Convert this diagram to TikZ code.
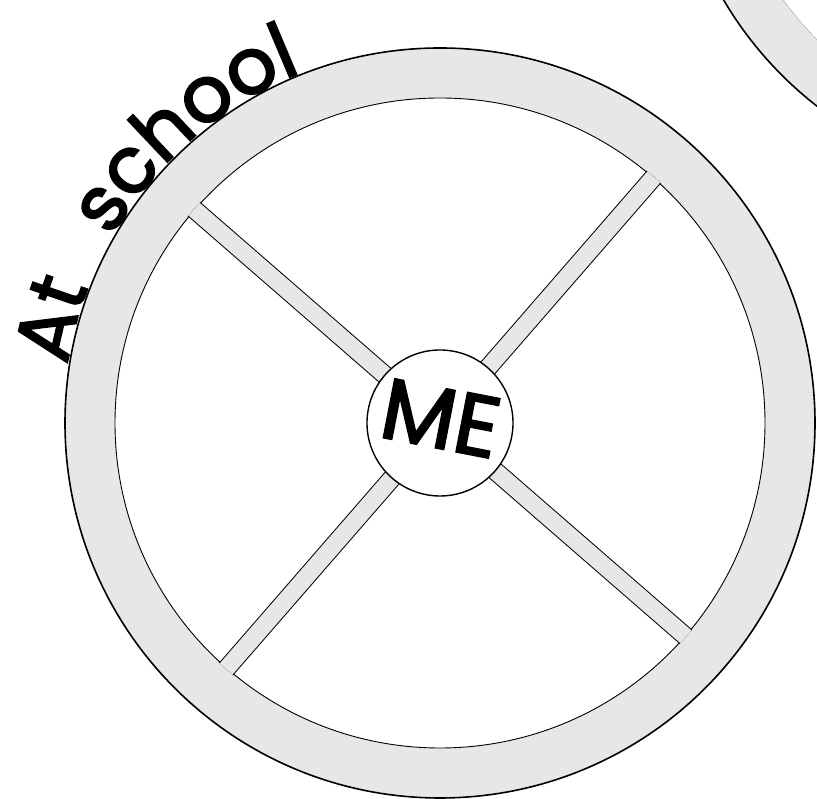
\documentclass[tikz,border=0pt]{standalone}
\usepackage{fontspec}
\usepackage{xcolor}
\usepackage{tikz}
\usetikzlibrary{shapes.geometric, positioning, calc, decorations.text}
\newfontfamily\handfont[FakeBold=2.5]{Poppins}
\definecolor{rimgrey}{RGB}{230,231,233}

\begin{document}
\begin{tikzpicture}[x=1pt, y=1pt]
    \tikzstyle{rim_style} = [circle, minimum size=750pt, inner sep=0pt, draw=black, line width=1.6pt, fill=rimgrey]
    \tikzstyle{hub_style} = [circle, minimum size=650pt, inner sep=0pt, draw=black, line width=0.9pt, fill=white]
    \tikzstyle{me_style} = [circle, minimum size=146pt, inner sep=0pt, draw=black, line width=1.4pt, fill=white, font=\handfont\fontsize{86}{90}\selectfont]
    \tikzstyle{title_style} = [decorate, decoration={text along path, text align=center, text={|\handfont\fontsize{78}{90}\selectfont|#1}}]
    \tikzstyle{spoke_edge} = [line width=19pt, draw=black, shorten >=-8pt]
    \tikzstyle{spoke_fill} = [line width=17pt, draw=rimgrey, shorten >=-8pt]

    \useasboundingbox (0,0) rectangle (817,799);
    \clip (0,0) rectangle (817,799);
    \coordinate (c) at (440,376);

    % Title along the rim
    \path [title_style=At] ($(c)+(176:377)$) arc (176:154:377);
    \path [title_style=school] ($(c)+(153:377)$) arc (153:109:377);

    % Second wheel, cut off in the corner
    \node (rim2) [rim_style] at (1047,989) {};
    \node (hub2) [hub_style, draw=rimgrey!60!black, line width=0.3pt] at (rim2.center) {};

    % Main wheel
    \node (rim) [rim_style] at (c) {};
    \node (hub) [hub_style] at (rim.center) {};

    % Spokes
    \begin{scope}
        \clip (hub.center) circle (326);
        \foreach \a in {49.5, 139.5, 229.5, 319.5} {
            \draw [spoke_edge] (hub.center) -- (hub.\a);
            \draw [spoke_fill] (hub.center) -- (hub.\a);
        }
    \end{scope}

    % Centre
    \node (me) [me_style, rotate=-11] at (hub.center) {\raisebox{10pt}{ME}};
\end{tikzpicture}
\end{document}
